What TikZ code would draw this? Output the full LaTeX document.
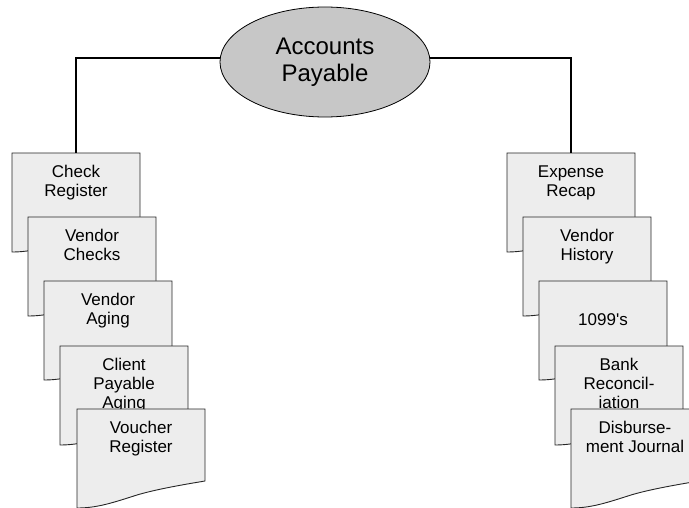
\documentclass[tikz,border=0pt]{standalone}
\usepackage{fontspec}
\setmainfont{Liberation Sans}
\usetikzlibrary{shapes.geometric}

\begin{document}
\begin{tikzpicture}[x=1pt, y=-1pt,
      hub/.style={ellipse, draw=black, fill=black!22, line width=0.8pt,
                  minimum width=210pt, minimum height=110pt, inner sep=0pt,
                  align=center, font=\fontsize{24}{27}\selectfont},
      page/.style={draw=black!85, fill=black!7, line width=0.9pt},
      pagetext/.style={anchor=north, align=center, inner xsep=0pt, inner ysep=12pt,
                       font=\fontsize{17}{19}\selectfont},
      link/.style={line width=1.8pt, draw=black}]
    \useasboundingbox (0,0) rectangle (689,508);
    \node[hub] (ap) at (325,62) {Accounts\\Payable};
    % two stacks of report pages
    \foreach \name/\x/\y/\txt in {cr/12/153/{Check\\Register}, vc/28/217/{Vendor\\Checks},
        va/44/281/{Vendor\\Aging}, cpa/60/346/{Client\\Payable\\Aging}, vr/77/409/{Voucher\\Register},
        er/507/153/{Expense\\Recap}, vh/523/217/{Vendor\\History},
        nn/539/281/{\strut\\1099\textquotesingle s}, br/555/346/{Bank\\Reconcil-\\iation},
        dj/571/409/{Disburse-\\ment Journal}}{
      \draw[page] (\x,\y) -- (\x+128,\y) -- (\x+128,\y+72)
        .. controls (\x+110,\y+75) and (\x+80,\y+80) .. (\x+60,\y+86)
        .. controls (\x+35,\y+94) and (\x+20,\y+99) .. (\x,\y+99) -- cycle
        (\x+64,\y) node[pagetext] (\name) {\txt};
    }
    \draw[link] ([yshift=4pt]ap.west) -| (cr.north);
    \draw[link] ([yshift=4pt]ap.east) -| (er.north);
  \end{tikzpicture}
\end{document}
